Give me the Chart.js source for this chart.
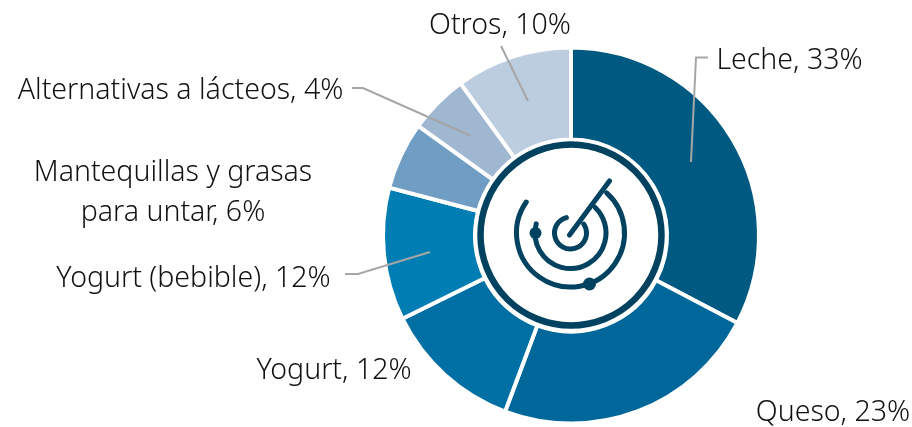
<!DOCTYPE html>
<html><head><meta charset="utf-8">
<script src="https://cdn.jsdelivr.net/npm/chart.js@4"></script>
<style>html,body{margin:0;padding:0;background:#fff}canvas{display:block}</style>
</head><body><canvas id="c" width="912" height="427"></canvas>
<script>
const categories = ["Leche","Queso","Yogurt","Yogurt (bebible)","Mantequillas y grasas para untar","Alternativas a lácteos","Otros"];
const labelledPercents = [33,23,12,12,6,4,10];
const drawnShares = [32.7,23,12,11.4,5.8,5.1,10];
const colors = ["#005981","#00679A","#006FA3","#007DB2","#709DC3","#9FB7D1","#BDCDE0"];
const labelLines = [
 {lines:[categories[0]+", "+labelledPercents[0]+"%"],x:789.5,y:60.5},
 {lines:[categories[1]+", "+labelledPercents[1]+"%"],x:833,y:413},
 {lines:[categories[2]+", "+labelledPercents[2]+"%"],x:334,y:370.5},
 {lines:[categories[3]+", "+labelledPercents[3]+"%"],x:193.5,y:278.5},
 {lines:["Mantequillas y grasas","para untar, "+labelledPercents[4]+"%"],x:173,y:172.5,gap:40},
 {lines:[categories[5]+", "+labelledPercents[5]+"%"],x:180.5,y:90.5},
 {lines:[categories[6]+", "+labelledPercents[6]+"%"],x:500,y:25.5}
];
const leaders = [
 [[691,162],[696,57.5],[708,57.5]],
 [[471,136],[363,88],[352,88]],
 [[528,101],[501,46]],
 [[430,252],[358,274],[345,274]]
];
const dark = "#00425F";
const decor = {
 id:"decor",
 afterDatasetsDraw(chart){
  const c = chart.ctx;
  const m = chart.getDatasetMeta(0).data[0];
  const cx = m.x, cy = m.y;
  c.save();
  c.fillStyle="#fff"; c.beginPath(); c.arc(cx,cy,97.5,0,Math.PI*2); c.fill();
  c.strokeStyle=dark; c.lineWidth=6.5; c.beginPath(); c.arc(cx,cy-0.5,90.5,0,Math.PI*2); c.stroke();
  const ix=cx-0.5, iy=cy-2.5;
  c.lineWidth=5; c.lineCap="round";
  const d=Math.PI/180;
  [[16,-105,-34],[35.5,-165,-46],[54,-145,-48]].forEach(([r,a0,a1])=>{
    c.beginPath(); c.arc(ix,iy,r,a0*d,a1*d,true); c.stroke();
  });
  c.beginPath(); c.moveTo(ix-1,iy+2); c.lineTo(ix+39,iy-52); c.stroke();
  c.fillStyle=dark;
  [[ix-35,iy],[ix+19,iy+51]].forEach(([x,y],i)=>{
    c.beginPath(); c.arc(x,y,i?6.5:6,0,Math.PI*2); c.fill();
  });
  c.strokeStyle="#A6A6A6"; c.lineWidth=2; c.lineCap="butt";
  leaders.forEach(p=>{c.beginPath();p.forEach(([x,y],i)=>i?c.lineTo(x,y):c.moveTo(x,y));c.stroke();});
  c.fillStyle="#111"; c.textAlign="center"; c.textBaseline="middle";
  c.font='300 28.5px "Noto Sans"';
  labelLines.forEach(l=>l.lines.forEach((t,i)=>c.fillText(t,l.x,l.y+i*(l.gap||0))));
  c.restore();
 }
};
new Chart(document.getElementById("c"),{
 type:"doughnut",
 data:{labels:categories,datasets:[{data:drawnShares,backgroundColor:colors,borderColor:"#fff",borderWidth:4,borderAlign:"center"}]},
 options:{responsive:false,animation:false,cutout:96,
  layout:{padding:{left:381,right:151,top:45.5,bottom:1.5}},
  plugins:{legend:{display:false},tooltip:{enabled:false}}},
 plugins:[decor]
});
</script></body></html>
